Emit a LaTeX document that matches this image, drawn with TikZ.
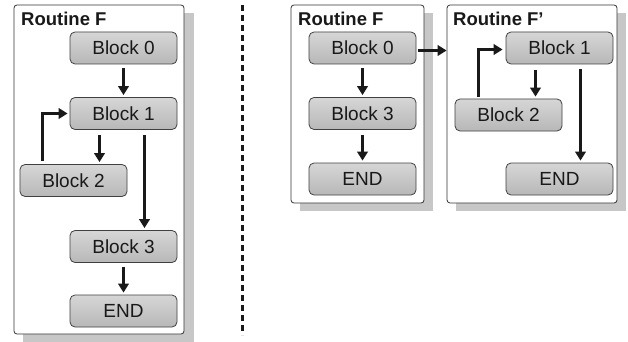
\documentclass[tikz,border=0pt]{standalone}
\usepackage{fontspec}
\setmainfont{Liberation Sans}
\usetikzlibrary{arrows.meta}
\begin{document}
\begin{tikzpicture}[x=1pt,y=-1pt,
  panel/.style={draw=black!80, line width=0.8pt, rounded corners=3pt, fill=white, inner sep=0pt},
  shadowbox/.style={fill=black!22, draw=none},
  block/.style={draw=black!75, line width=0.8pt, rounded corners=5pt, top color=black!16, middle color=black!6, bottom color=black!28,
    minimum width=107pt, minimum height=32pt, inner sep=0pt, font=\fontsize{19}{22}\selectfont, text=black!90},
  title/.style={anchor=base west, inner sep=0pt, font=\fontsize{18.5}{21}\selectfont\bfseries, text=black!90},
  arr/.style={line width=3pt, -{Triangle[length=9pt,width=10.5pt]}, black!90}
]
\useasboundingbox (0,0) rectangle (628,342);
% shadows
\fill[shadowbox] (23,13) rectangle (194,342);
\fill[shadowbox] (300,13) rectangle (433,211);
\fill[shadowbox] (456,13) rectangle (626,211);
% panels
\node[panel, minimum width=170pt, minimum height=329pt] (PL) at (99,169.5) {};
\node[panel, minimum width=133pt, minimum height=198pt] (PF) at (357.5,104) {};
\node[panel, minimum width=170pt, minimum height=198pt] (PG) at (532,104) {};
% titles
\node[title] (TL) at (21,26) {Routine F};
\node[title] (TF) at (298,26) {Routine F};
\node[title] (TG) at (453,26) {Routine F’};
% separator
\coordinate (s1) at (242.5,5);
\coordinate (s2) at (242.5,335);
\draw[line width=3pt, dash pattern=on 6pt off 4pt, black!90] (s1) -- (s2);
% left blocks
\node[block] (a0) at (123.5,48) {Block 0};
\node[block] (a1) at (123.5,113.5) {Block 1};
\node[block] (a2) at (73.5,180.5) {Block 2};
\node[block] (a3) at (123.5,246.5) {Block 3};
\node[block] (a4) at (123.5,311) {END};
\draw[arr] ([yshift=-4pt]a0.south) -- ([yshift=2pt]a1.north);
\draw[arr] ([xshift=-24pt,yshift=-5pt]a1.south) -- ([xshift=-24pt,yshift=2pt]a1.south |- a2.north);
\draw[arr] ([xshift=-31pt,yshift=3pt]a2.north) |- ([xshift=-2pt]a1.west);
\draw[arr] ([xshift=21pt,yshift=-5pt]a1.south) -- ([xshift=21pt,yshift=2pt]a1.south |- a3.north);
\draw[arr] ([yshift=-4pt]a3.south) -- ([yshift=2pt]a4.north);
% middle blocks
\node[block] (b0) at (362.5,48) {Block 0};
\node[block] (b3) at (362.5,113.5) {Block 3};
\node[block] (b4) at (362.5,179) {END};
\draw[arr] ([yshift=-4pt]b0.south) -- ([yshift=2pt]b3.north);
\draw[arr] ([yshift=-5pt]b3.south) -- ([yshift=2pt]b4.north);
\draw[arr] ([xshift=2pt,yshift=-2.5pt]b0.east) -- ([yshift=-2.5pt]b0.east -| PG.west);
% right blocks
\node[block] (c1) at (559.5,48) {Block 1};
\node[block] (c2) at (508.5,115) {Block 2};
\node[block] (c4) at (559.5,179) {END};
\draw[arr] ([xshift=-24pt,yshift=-6pt]c1.south) -- ([xshift=-24pt,yshift=2pt]c1.south |- c2.north);
\draw[arr] ([xshift=-30pt,yshift=2pt]c2.north) |- ([xshift=-3pt,yshift=-1.5pt]c1.west);
\draw[arr] ([xshift=21pt,yshift=-5pt]c1.south) -- ([xshift=21pt,yshift=2pt]c1.south |- c4.north);
\end{tikzpicture}
\end{document}
